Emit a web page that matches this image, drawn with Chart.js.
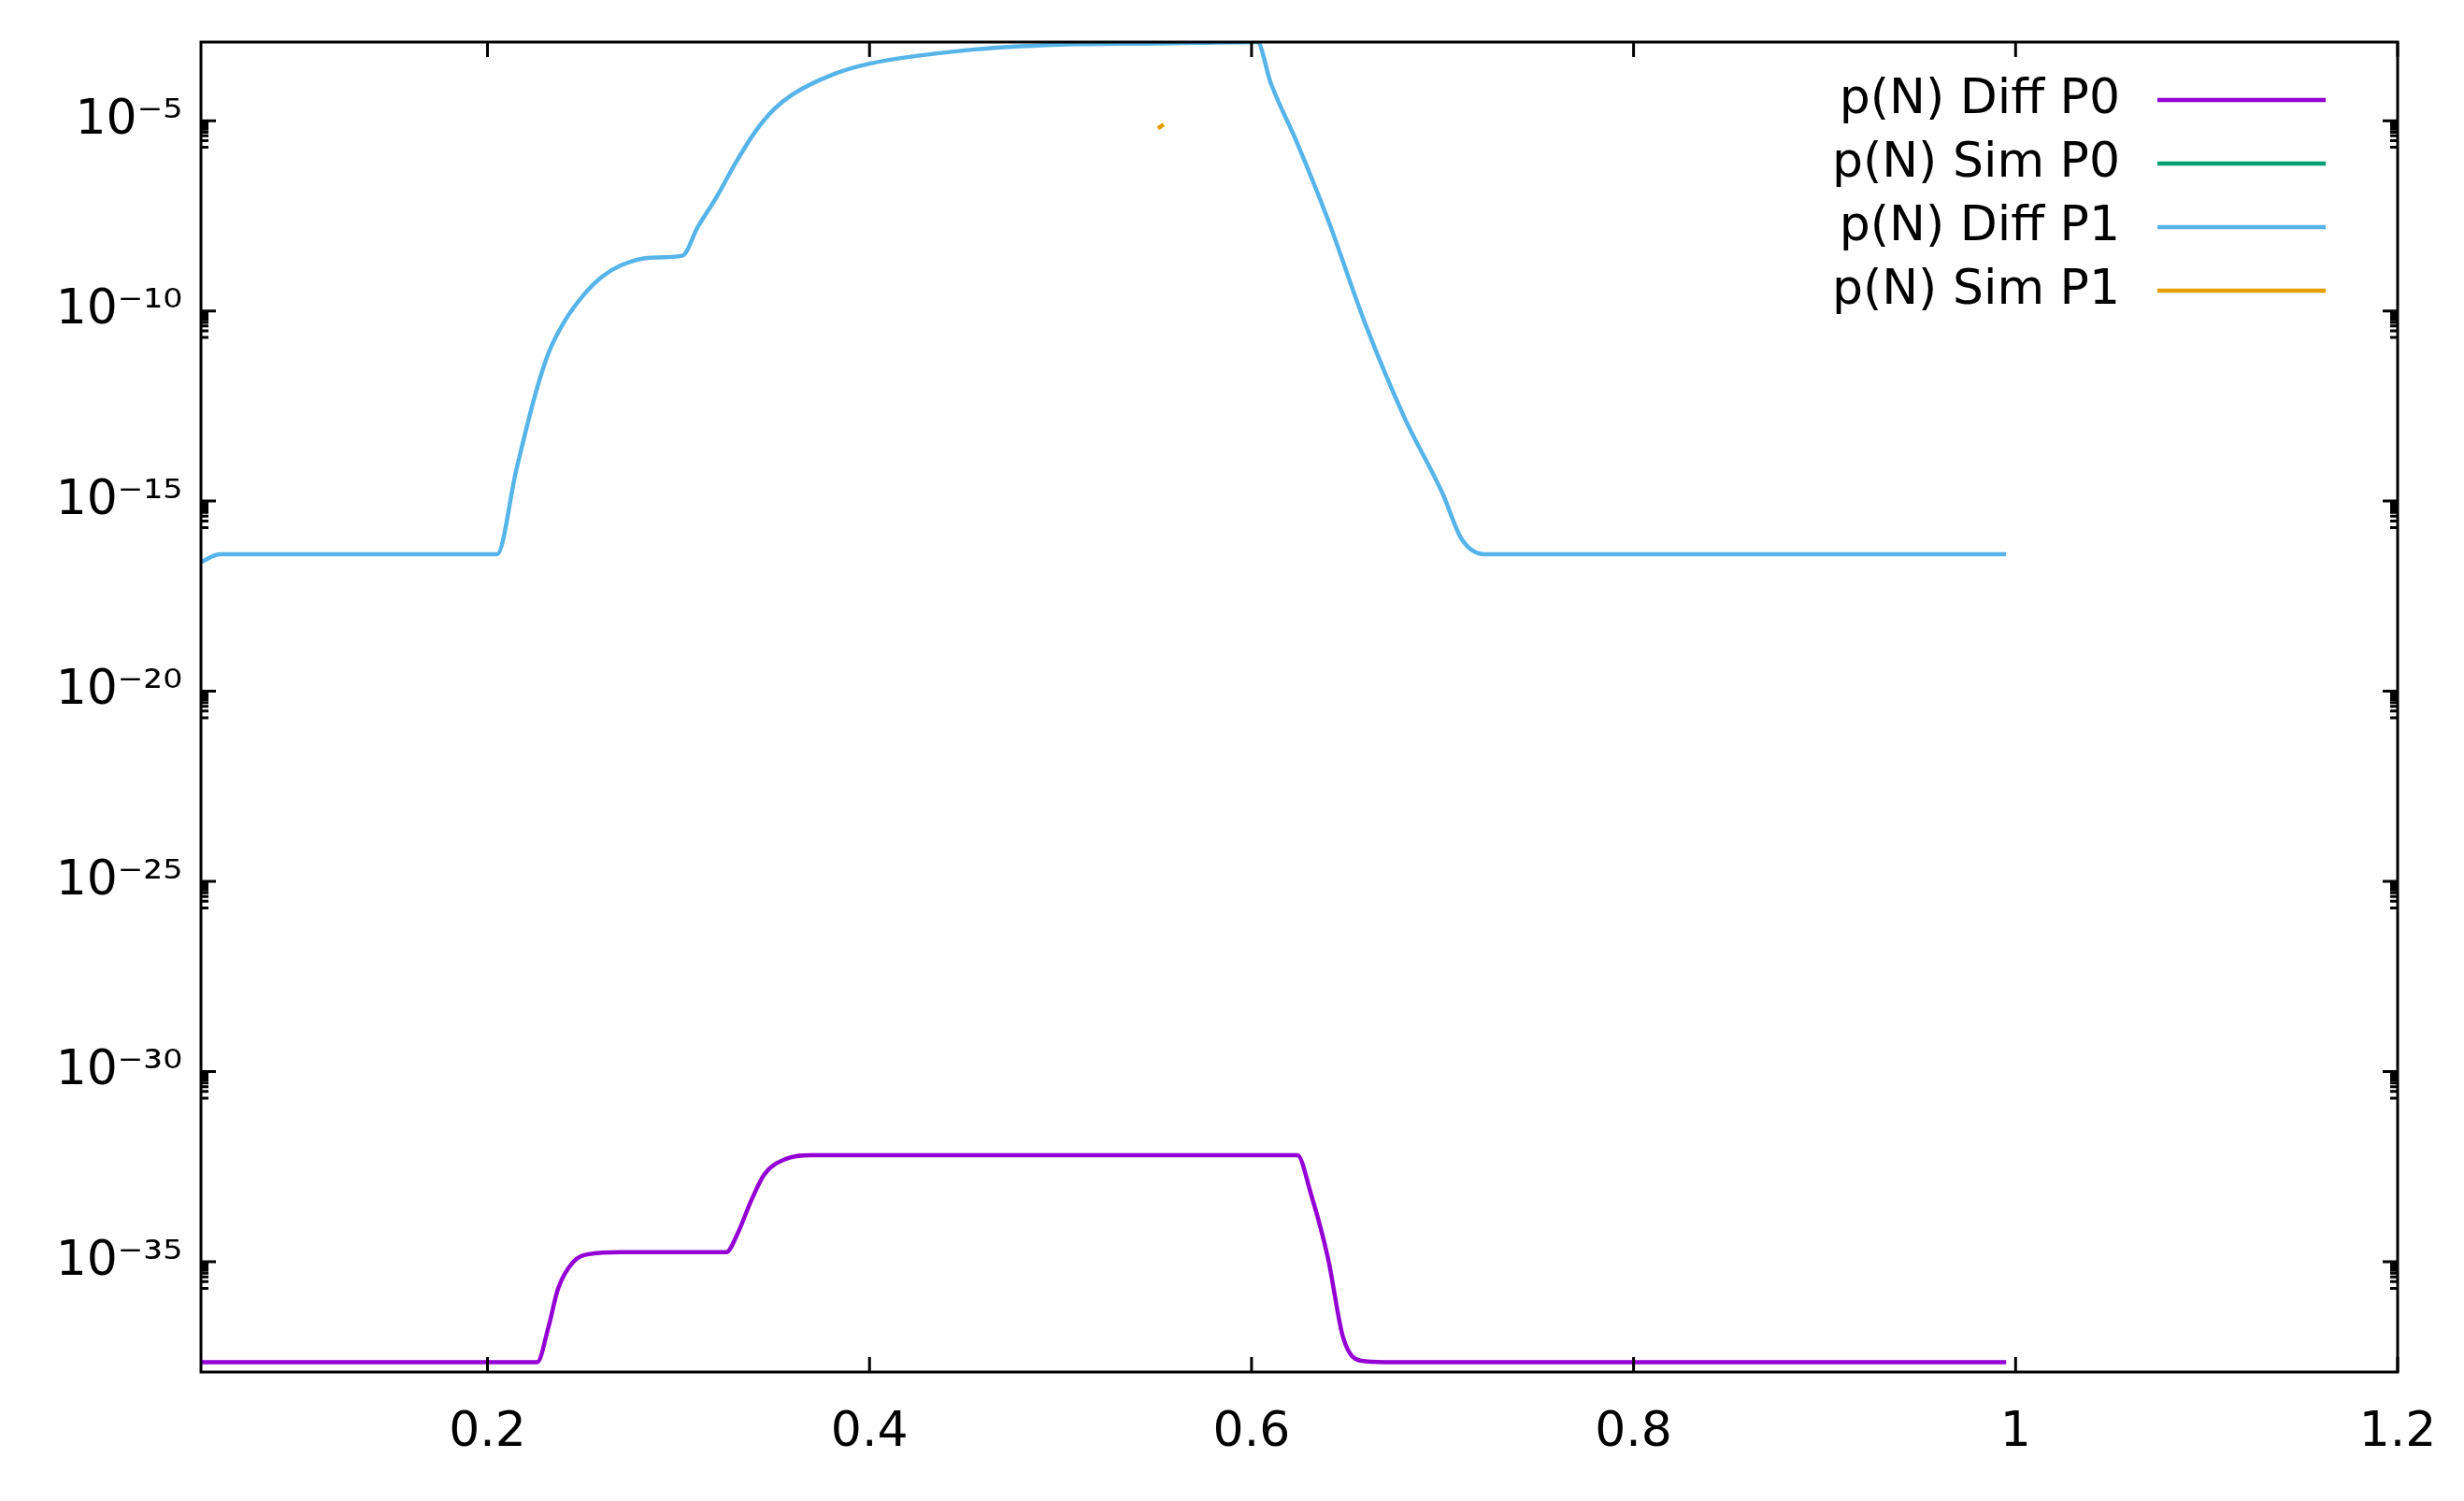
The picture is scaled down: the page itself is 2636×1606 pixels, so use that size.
<!DOCTYPE html>
<html>
<head>
<meta charset="utf-8">
<script src="https://cdn.jsdelivr.net/npm/chart.js@4.4.1/dist/chart.umd.min.js"></script>
<style>
  html, body { margin: 0; padding: 0; background: #fff; }
  #wrap { width: 2636px; height: 1606px; }
</style>
</head>
<body>
<div id="wrap"><canvas id="plot"></canvas></div>
<script>
// ── Data (y stored as log10 exponents) ──
const diffP1X = [0.05, 0.06, 0.205, 0.215, 0.225, 0.232, 0.24, 0.25, 0.26, 0.27, 0.285, 0.302, 0.31, 0.32, 0.33, 0.34, 0.35, 0.36, 0.38, 0.4, 0.45, 0.5, 0.55, 0.603, 0.61, 0.624, 0.64, 0.66, 0.68, 0.70, 0.71, 0.722, 0.8, 0.9, 0.995];
const diffP1E = [-16.6, -16.4, -16.4, -14.2, -12.2, -11.1, -10.3, -9.6, -9.1, -8.8, -8.6, -8.55, -7.8, -7.0, -6.1, -5.3, -4.7, -4.3, -3.8, -3.5, -3.15, -3.0, -2.97, -2.93, -4.0, -5.6, -7.6, -10.4, -12.8, -14.8, -16.0, -16.4, -16.4, -16.4, -16.4];

const diffP0X = [0.05, 0.226, 0.232, 0.237, 0.245, 0.253, 0.27, 0.3, 0.325, 0.331, 0.338, 0.345, 0.356, 0.37, 0.4, 0.5, 0.624, 0.631, 0.64, 0.648, 0.657, 0.67, 0.8, 0.995];
const diffP0E = [-37.64, -37.64, -36.7, -35.7, -35.0, -34.8, -34.75, -34.75, -34.75, -34.25, -33.4, -32.7, -32.3, -32.2, -32.2, -32.2, -32.2, -33.2, -34.9, -37.0, -37.6, -37.64, -37.64, -37.64];

const simP1X = [0.551, 0.554];
const simP1E = [-5.2, -5.1];

const simP0X = [];
const simP0E = [];

const xTicks = [0.2, 0.4, 0.6, 0.8, 1, 1.2];
const yTickExps = [-35, -30, -25, -20, -15, -10, -5];

const seriesNames = ['p(N) Diff P0', 'p(N) Sim P0', 'p(N) Diff P1', 'p(N) Sim P1'];
const seriesColors = ['#9400d3', '#009e73', '#56b4e9', '#e69f00'];

const toPoints = (xs, es) => xs.map((x, i) => ({ x: x, y: Math.pow(10, es[i]) }));

const SUP = { '-': '⁻', '0': '⁰', '1': '¹', '2': '²', '3': '³', '4': '⁴', '5': '⁵', '6': '⁶', '7': '⁷', '8': '⁸', '9': '⁹' };
const supExp = e => '10' + String(e).split('').map(c => SUP[c]).join('');

const FONT = 'DejaVu Sans';

// inward tick marks + frame, gnuplot style
const frameTicks = {
  id: 'frameTicks',
  afterDraw(chart) {
    const { ctx, chartArea: a, scales } = chart;
    ctx.save();
    ctx.strokeStyle = '#000';
    ctx.lineWidth = 3;
    ctx.strokeRect(a.left, a.top, a.right - a.left, a.bottom - a.top);
    ctx.beginPath();
    xTicks.forEach(v => {
      const px = scales.x.getPixelForValue(v);
      ctx.moveTo(px, a.bottom); ctx.lineTo(px, a.bottom - 16);
      ctx.moveTo(px, a.top); ctx.lineTo(px, a.top + 16);
    });
    yTickExps.forEach(e => {
      const py = scales.y.getPixelForValue(Math.pow(10, e));
      ctx.moveTo(a.left, py); ctx.lineTo(a.left + 16, py);
      ctx.moveTo(a.right, py); ctx.lineTo(a.right - 16, py);
      for (let m = 2; m <= 9; m++) {
        const pm = scales.y.getPixelForValue(m * Math.pow(10, e - 1));
        ctx.moveTo(a.left, pm); ctx.lineTo(a.left + 8, pm);
        ctx.moveTo(a.right, pm); ctx.lineTo(a.right - 8, pm);
      }
    });
    ctx.stroke();

    // legend: right-aligned text, sample line to the right
    ctx.font = '52px "' + FONT + '"';
    ctx.textAlign = 'right';
    ctx.textBaseline = 'middle';
    ctx.fillStyle = '#000';
    const lineR = a.right - 77, lineL = lineR - 180, textR = lineL - 40;
    seriesNames.forEach((n, i) => {
      const y = a.top + 62 + i * 68;
      ctx.fillText(n, textR, y);
      ctx.strokeStyle = seriesColors[i];
      ctx.lineWidth = 4.5;
      ctx.beginPath(); ctx.moveTo(lineL, y); ctx.lineTo(lineR, y); ctx.stroke();
    });
    ctx.restore();
  }
};

const series = [
  toPoints(diffP0X, diffP0E),
  toPoints(simP0X, simP0E),
  toPoints(diffP1X, diffP1E),
  toPoints(simP1X, simP1E),
];

new Chart(document.getElementById('plot'), {
  type: 'line',
  data: {
    datasets: series.map((pts, i) => ({
      label: seriesNames[i],
      data: pts,
      borderColor: seriesColors[i],
      borderWidth: 4.5,
      pointRadius: 0,
      cubicInterpolationMode: 'monotone',
      fill: false,
    })),
  },
  options: {
    responsive: true,
    maintainAspectRatio: false,
    animation: false,
    devicePixelRatio: 1,
    layout: { padding: { top: 45, right: 71, left: 0, bottom: 0 } },
    plugins: { legend: { display: false }, tooltip: { enabled: false } },
    scales: {
      x: {
        type: 'linear', min: 0.05, max: 1.2,
        afterBuildTicks: s => { s.ticks = xTicks.map(v => ({ value: v })); },
        afterFit: s => { s.height = 138; },
        grid: { display: false },
        border: { display: false },
        ticks: { color: '#000', font: { family: FONT, size: 52 }, padding: 26, maxRotation: 0,
                 callback: v => String(v) },
      },
      y: {
        type: 'logarithmic', min: 1.26e-38, max: 1.17e-3,
        afterBuildTicks: s => { s.ticks = yTickExps.map(e => ({ value: Math.pow(10, e) })); },
        afterFit: s => { s.width = 215; },
        grid: { display: false },
        border: { display: false },
        ticks: { color: '#000', font: { family: FONT, size: 52 }, padding: 12,
                 callback: v => supExp(Math.round(Math.log10(v))) },
      },
    },
  },
  plugins: [frameTicks],
});
</script>
</body>
</html>
